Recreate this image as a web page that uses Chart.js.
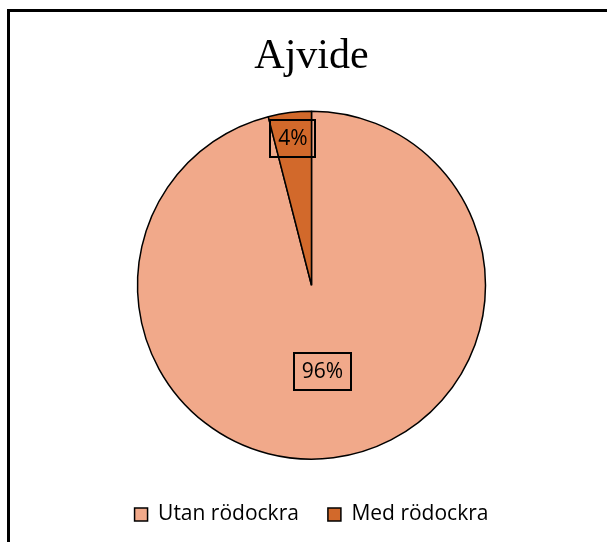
<!DOCTYPE html>
<html>
<head>
<meta charset="utf-8">
<script src="https://cdn.jsdelivr.net/npm/chart.js@4"></script>
<style>
  html, body { margin: 0; padding: 0; background: #fff; overflow: hidden; }
  #ram { position: absolute; left: 7px; top: 9px; width: 620px; height: 560px;
         border-left: 3px solid #000; border-top: 3px solid #000; pointer-events: none; }
  canvas { position: absolute; left: 0; top: 0; }
</style>
</head>
<body>
<canvas id="chartAjvide" width="607" height="542"></canvas>
<div id="ram"></div>
<script>
// data
const kategorier = ['Utan rödockra', 'Med rödockra'];
const andelar = [96, 4];
const etiketter = ['96%', '4%'];
const farger = ['#F1A98A', '#D2692B'];

// etiketter i rutor på tårtbitarna
const etikettPlugin = {
  id: 'etiketter',
  afterDatasetsDraw(chart) {
    const ctx = chart.ctx;
    const meta = chart.getDatasetMeta(0);
    const avstand = [0.5, 0.85]; // andel av radien
    ctx.save();
    ctx.font = '21px "Open Sans", sans-serif';
    ctx.textAlign = 'center';
    ctx.textBaseline = 'middle';
    meta.data.forEach((arc, i) => {
      const p = arc.getProps(['x', 'y', 'startAngle', 'endAngle', 'outerRadius'], true);
      const mitt = (p.startAngle + p.endAngle) / 2;
      const r = p.outerRadius * avstand[i];
      const x = p.x + Math.cos(mitt) * r;
      const y = p.y + Math.sin(mitt) * r;
      const b = ctx.measureText(etiketter[i]).width + 16;
      const h = 37;
      ctx.lineWidth = 2;
      ctx.strokeStyle = '#000';
      ctx.strokeRect(Math.round(x - b / 2), Math.round(y - h / 2), Math.round(b), h);
      ctx.fillStyle = '#000';
      ctx.fillText(etiketter[i], x, y + 1);
    });
    ctx.restore();
  }
};

const ctxAjvide = document.getElementById('chartAjvide').getContext('2d');
new Chart(ctxAjvide, {
  type: 'pie',
  data: {
    labels: kategorier,
    datasets: [{
      data: andelar,
      backgroundColor: farger,
      borderColor: '#000',
      borderWidth: 1.5,
      radius: 174
    }]
  },
  options: {
    responsive: false,
    animation: false,
    layout: { padding: { left: 16, right: 0, top: 0, bottom: 7 } },
    plugins: {
      title: {
        display: true,
        text: 'Ajvide',
        color: '#000',
        font: { family: '"Liberation Serif", serif', size: 42, weight: 'normal' },
        padding: { top: 32, bottom: 13 }
      },
      legend: {
        position: 'bottom',
        labels: {
          color: '#000',
          font: { family: '"Open Sans", sans-serif', size: 21 },
          boxWidth: 13,
          boxHeight: 13,
          padding: 29
        }
      },
      tooltip: { enabled: false }
    }
  },
  plugins: [etikettPlugin]
});
</script>
</body>
</html>
